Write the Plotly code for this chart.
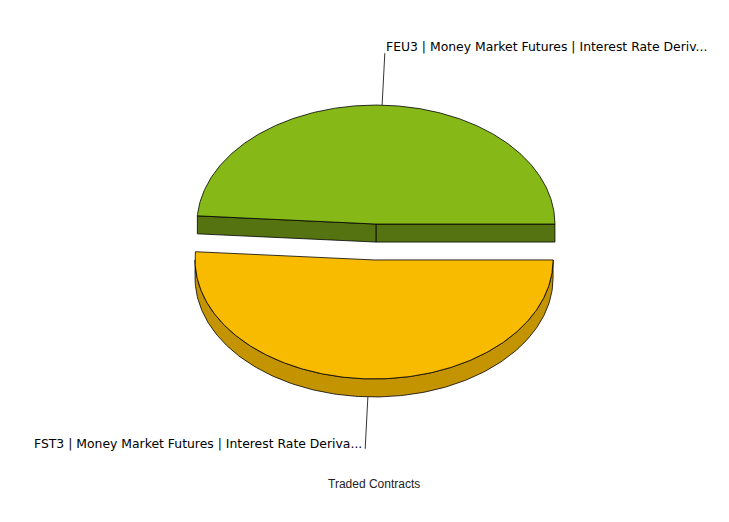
import numpy as np
import plotly.graph_objects as go

# ---- data ----
labels = [
    "FEU3 | Money Market Futures | Interest Rate Deriv...",
    "FST3 | Money Market Futures | Interest Rate Deriva...",
]
values = [48.9, 51.1]          # share of traded contracts (%)
top_colors = ["#86b817", "#f8bb00"]
side_colors = ["#557311", "#c49400"]
chart_title = "Traded Contracts"

# ---- layout constants (pixels) ----
W, H = 729, 522
PAGE_OFF = 8           # default body margin of the html page
CX, CY = 375, 242      # pie centre
RX, RY = 179, 119      # ellipse radii
DEPTH = 18             # pie thickness
EXPLODE = 27           # slice pull-out distance
LABEL_EXT = 52
OUTLINE = dict(color="black", width=0.8)

fig = go.Figure()

total = float(sum(values))
bounds = np.concatenate([[0.0], np.cumsum(values)]) / total * 360.0


def ell(cx, cy, deg, dz=0.0):
    t = np.radians(deg)
    return cx + RX * np.cos(t), cy - RY * np.sin(t) + dz


def poly(xs, ys, color):
    fig.add_trace(go.Scatter(
        x=list(xs), y=list(ys), mode="lines", fill="toself",
        fillcolor=color, line=OUTLINE, hoverinfo="skip", showlegend=False))


slices = []
for i, v in enumerate(values):
    a, b = bounds[i], bounds[i + 1]
    mid = (a + b) / 2
    m = np.radians(mid)
    ox = EXPLODE * np.cos(m)
    oy = -EXPLODE * np.sin(m) * RY / RX
    slices.append(dict(i=i, a=a, b=b, mid=mid, cx=CX + ox, cy=CY + oy))

# painter's order: back slices first
slices.sort(key=lambda s: -np.sin(np.radians(s["mid"])))

for s in slices:
    i, a, b, cx, cy = s["i"], s["a"], s["b"], s["cx"], s["cy"]
    # radial side faces
    for ang, visible in ((a, np.cos(np.radians(a)) > 0), (b, np.cos(np.radians(b)) < 0)):
        if visible:
            ex, ey = ell(cx, cy, ang)
            poly([cx, ex, ex, cx, cx], [cy, ey, ey + DEPTH, cy + DEPTH, cy], side_colors[i])
    # curved outer side (front half only: 180..360)
    lo, hi = max(a, 180.0), min(b, 360.0)
    if hi > lo:
        t = np.linspace(lo, hi, 200)
        xs, ys = ell(cx, cy, t)
        px = np.concatenate([xs, xs[::-1], xs[:1]])
        py = np.concatenate([ys, ys[::-1] + DEPTH, ys[:1]])
        poly(px, py, side_colors[i])
    # top face
    t = np.linspace(a, b, 300)
    xs, ys = ell(cx, cy, t)
    poly(np.concatenate([[cx], xs, [cx]]), np.concatenate([[cy], ys, [cy]]), top_colors[i])

# leader lines and labels
for s in slices:
    i, mid = s["i"], s["mid"]
    sx, sy = ell(s["cx"], s["cy"], mid)
    up = np.sin(np.radians(mid)) > 0
    if not up:
        sy += DEPTH
    dx, dy = RX * np.cos(np.radians(mid)), -RY * np.sin(np.radians(mid))
    n = np.hypot(dx, dy)
    exx, eyy = sx + dx / n * LABEL_EXT, sy + dy / n * LABEL_EXT
    fig.add_trace(go.Scatter(x=[sx, exx], y=[sy, eyy], mode="lines",
                             line=dict(color="black", width=0.8),
                             hoverinfo="skip", showlegend=False))
    if up:
        fig.add_annotation(
            x=exx, y=eyy, text=labels[i], showarrow=False,
            xanchor="left", yanchor="middle", xshift=-1, yshift=7,
            font=dict(family="DejaVu Sans", size=12.4, color="black"))
    else:
        fig.add_annotation(
            x=exx, y=eyy, text=labels[i], showarrow=False,
            xanchor="right", yanchor="middle", xshift=-1, yshift=5,
            font=dict(family="DejaVu Sans", size=12.4, color="black"))

fig.add_annotation(
    x=374, y=484, text=chart_title, showarrow=False,
    xanchor="center", yanchor="middle",
    font=dict(family="Liberation Sans, Arial", size=12, color="#222222"))

fig.update_layout(
    width=W, height=H, margin=dict(l=0, r=0, t=0, b=0),
    paper_bgcolor="white", plot_bgcolor="white",
    xaxis=dict(range=[PAGE_OFF, W + PAGE_OFF], visible=False, fixedrange=True),
    yaxis=dict(range=[H + PAGE_OFF, PAGE_OFF], visible=False, fixedrange=True),
    showlegend=False,
)

fig.write_html("out.html")
